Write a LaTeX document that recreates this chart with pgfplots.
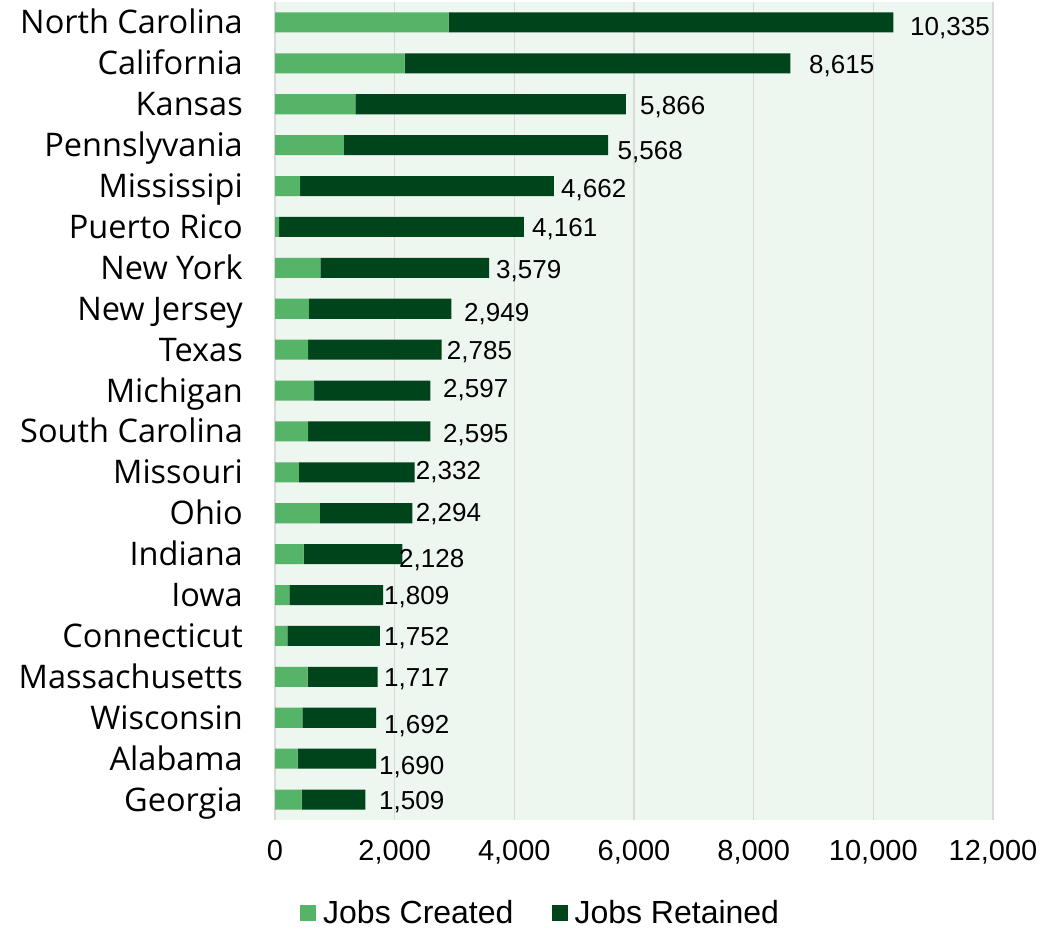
\documentclass[border=0pt]{standalone}
\usepackage{pgfplots}
\pgfplotsset{compat=1.18}
\usepackage{pgfplotstable}
\usepackage{fontspec}
\setmainfont{Liberation Sans}
\newfontfamily\catfont{Open Sans}
\definecolor{created}{RGB}{85,180,104}
\definecolor{retained}{RGB}{0,68,27}
\definecolor{bgc}{RGB}{237,246,239}
\definecolor{gridc}{RGB}{217,217,217}

\pgfplotstableread{
pos created retained total labx dy
19 2900 7435 10335 10613 -4
18 2165 6450 8615 8925 -1
17 1342 4524 5866 6100 -1
16 1153 4415 5568 5724 -5
15 418 4244 4662 4780 -2
14 67 4094 4161 4295 0
13 760 2819 3579 3694 -1
12 568 2381 2949 3159 -3
11 552 2233 2785 2870 -1
10 652 1945 2597 2808 2
9 552 2043 2595 2808 -2
8 401 1931 2332 2352 2
7 752 1542 2294 2352 1
6 480 1648 2128 2072 -4
5 240 1569 1809 1822 0
4 205 1547 1752 1822 0
3 546 1171 1717 1822 0
2 457 1235 1692 1822 -6
1 380 1310 1690 1738 -7
0 446 1063 1509 1738 -1
}\data

\begin{document}
\begin{tikzpicture}
\path[use as bounding box] (0,0) rectangle (1063pt,929pt);
\begin{axis}[
  at={(275pt,109pt)}, anchor=south west,
  width=718pt, height=818pt, scale only axis,
  xbar stacked, bar width=0.49,
  xmin=0, xmax=12000, ymin=-0.5, ymax=19.5,
  xtick={0,2000,...,12000},
  scaled x ticks=false,
  ytick={0,...,19},
  yticklabels={Georgia,Alabama,Wisconsin,Massachusetts,Connecticut,Iowa,Indiana,Ohio,Missouri,South Carolina,Michigan,Texas,New Jersey,New York,Puerto Rico,Mississipi,Pennslyvania,Kansas,California,North Carolina},
  axis background/.style={fill=bgc},
  xmajorgrids, grid style={gridc, line width=1.3pt},
  axis line style={draw=none},
  major tick length=0pt,
  yticklabel style={font=\catfont\fontsize{32.5}{33}\selectfont, anchor=east, inner sep=0pt, text height=23pt, text depth=0pt, xshift=-32pt},
  xticklabel style={font=\fontsize{29}{29}\selectfont, anchor=base, inner sep=0pt, yshift=-41pt, /pgf/number format/.cd, fixed, 1000 sep={,}, assume math mode=true},
  legend style={at={(0.37,-0.1137)}, anchor=center, draw=none, fill=none,
    legend columns=2, font=\fontsize{32}{32}\selectfont,
    /tikz/every even column/.append style={column sep=36pt},
    /tikz/every odd column/.append style={column sep=5pt},
    nodes={inner sep=2pt}},
  legend image code/.code={\fill[#1] (0pt,-8pt) rectangle (16pt,8pt);},
]
\addplot[fill=created, draw=none] table[x=created, y=pos] {\data};
\addplot[fill=retained, draw=none] table[x=retained, y=pos] {\data};
\legend{Jobs Created, Jobs Retained}
\end{axis}
\begin{axis}[
  at={(275pt,109pt)}, anchor=south west,
  width=718pt, height=818pt, scale only axis,
  xmin=0, xmax=12000, ymin=-0.5, ymax=19.5,
  hide axis, clip=false,
]
\addplot[only marks, mark=none,
  visualization depends on={\thisrow{dy} \as \dy},
  point meta=\thisrow{total},
  nodes near coords={\pgfmathprintnumber[fixed, precision=0, 1000 sep={,}, assume math mode=true]{\pgfplotspointmeta}},
  every node near coord/.append style={anchor=west, inner sep=0pt, text height=18.6pt, text depth=0pt, font=\fontsize{26}{26}\selectfont, yshift=\dy pt},
] table[x=labx, y=pos] {\data};
\end{axis}
\end{tikzpicture}
\end{document}
